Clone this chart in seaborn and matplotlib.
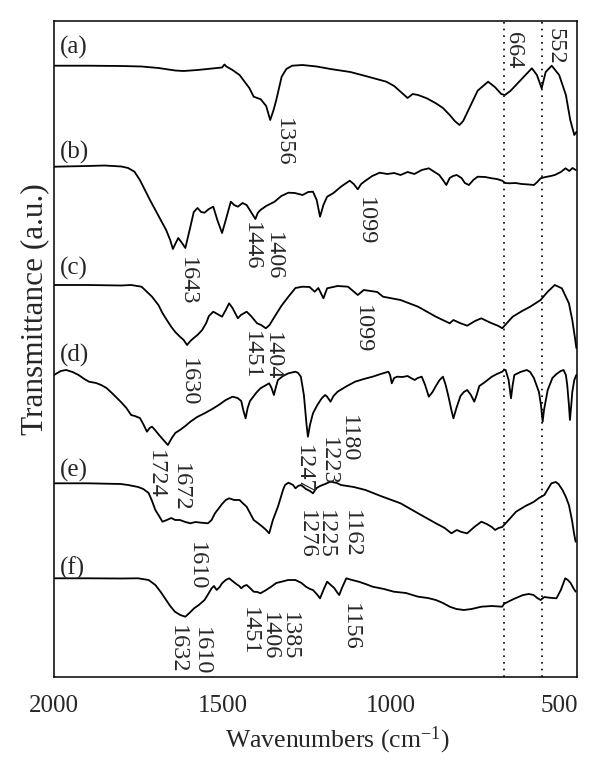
import numpy as np
import pandas as pd
import matplotlib
matplotlib.use('Agg')
import matplotlib.pyplot as plt
import seaborn as sns
from matplotlib.ticker import MultipleLocator

# ============================================================
# 1. Spectra (wavenumber, band depth below baseline)
# ============================================================
wn_a = [2000, 1900, 1800, 1740, 1690, 1640, 1615, 1574, 1530, 1501, 1494, 1488, 1470, 1449, 1420, 1407,
        1386, 1370, 1358, 1348, 1340, 1324, 1310, 1293, 1262, 1220, 1179, 1120, 1075, 1013, 990, 971,
        950, 935, 919, 893, 866, 845, 825, 810, 796, 785, 774, 742, 711, 690, 672, 661, 645, 628, 600,
        581, 566, 552, 540, 522, 500, 480, 467, 455, 449]
dep_a = [0, 0, 0.3, 0.8, 2.3, 4.8, 5.3, 4.3, 2.8, 1.8, -1.2, 0.8, 4.3, 9.3, 22.3, 31,
         33.6, 40.3, 54.3, 44.3, 34.3, 11, 3.3, 0, -0.7, 0.8, 3.3, 6.3, 10.3, 16, 20.3, 26,
         32.3, 28.3, 29.3, 32.6, 37.6, 42.3, 49.3, 55.3, 59.3, 55.3, 47.6, 25, 16, 21.6, 28.3, 29.3, 25.3, 19.3, 9.3,
         2.6, 9.3, 22.6, 6.3, 0, 9.3, 29.3, 54.3, 69.3, 66.3]

wn_b = [2000, 1900, 1850, 1800, 1780, 1761, 1745, 1730, 1715, 1699, 1683, 1667, 1655, 1647, 1640, 1631,
        1620, 1610, 1603, 1595, 1585, 1574, 1563, 1553, 1540, 1527, 1515, 1501, 1490, 1475, 1465, 1454,
        1440, 1428, 1415, 1402, 1395, 1387, 1370, 1345, 1325, 1304, 1285, 1262, 1245, 1231, 1220, 1210,
        1200, 1189, 1170, 1148, 1122, 1110, 1098, 1088, 1075, 1055, 1033, 1010, 990, 971, 950, 930, 908,
        887, 870, 856, 845, 835, 825, 815, 804, 790, 780, 768, 755, 742, 720, 700, 685, 669, 660, 648,
        630, 611, 590, 575, 565, 555, 540, 525, 513, 495, 481, 470, 460, 451]
dep_b = [0, -0.7, -1.2, -0.2, 1.3, 5, 13.3, 23.3, 33.3, 43.3, 53.3, 63.3, 73.3, 82.3, 77.3, 71.3,
         76.3, 81.3, 71.3, 60, 45.3, 41.3, 45.3, 46, 42.3, 40, 53.3, 66.3, 53.3, 35, 38.3, 40,
         36.3, 38.3, 45.3, 52.3, 46.3, 43.3, 39.3, 35, 29.3, 26, 26.3, 28.3, 25.3, 25, 33.3, 50,
         38.3, 30, 26.3, 20, 14, 17.3, 22.6, 17.3, 14, 9.3, 6, 7.3, 6.3, 8.3, 5.3, 7.3, 3.3,
         1.6, 5.3, 8.3, 13.3, 18.3, 11.3, 9.3, 8.3, 11.3, 16.3, 18.3, 13.3, 10, 10.3, 11.6, 12.3, 14, 16.3, 16.6,
         16.3, 17.3, 17.8, 18.3, 15.3, 11.6, 10.3, 9.3, 8.3, 5.3, 1.6, 4.3, 1.3, 3.3]

wn_c = [2000, 1900, 1800, 1771, 1740, 1709, 1690, 1678, 1665, 1652, 1640, 1626, 1615, 1605, 1595, 1585,
        1574, 1560, 1548, 1540, 1527, 1515, 1501, 1490, 1480, 1470, 1454, 1445, 1428, 1415, 1397, 1385,
        1371, 1360, 1345, 1325, 1304, 1283, 1262, 1241, 1226, 1215, 1200, 1189, 1158, 1127, 1098, 1080,
        1040, 1023, 971, 919, 866, 825, 814, 795, 773, 750, 731, 715, 700, 680, 669, 655, 638, 610, 586,
        555, 545, 534, 513, 492, 471, 461, 453, 449]
dep_c = [0, 0, 0.5, 0, 1.7, 11.7, 20, 28, 35, 41.7, 47, 51.7, 55, 60, 56, 53,
         50, 45, 38, 31, 26.7, 29, 31.7, 25, 18.3, 23, 33.3, 30, 26.7, 31, 38.3, 40,
         43.3, 40, 31.7, 21, 11.7, 3, 1.7, 2, 6.7, 3, 13.3, 3.3, 1, 1.7, 10, 5,
         7, 11.7, 15, 21.7, 31.7, 38.3, 35, 38, 40.7, 36, 33.3, 36, 38.3, 41, 43.3, 38, 31.7, 26, 21.7,
         15, 11, 6.7, 0, 3.3, 18.3, 35, 53, 63]

wn_d = [2000, 1980, 1964, 1945, 1927, 1910, 1896, 1875, 1860, 1844, 1825, 1802, 1785, 1771, 1760, 1745,
        1735, 1724, 1716, 1709, 1700, 1688, 1675, 1662, 1650, 1640, 1626, 1610, 1595, 1575, 1553, 1530,
        1511, 1490, 1470, 1455, 1444, 1438, 1431, 1425, 1418, 1400, 1387, 1370, 1361, 1354, 1347, 1341,
        1335, 1320, 1304, 1283, 1275, 1267, 1258, 1250, 1246, 1240, 1231, 1218, 1205, 1195, 1189, 1179,
        1170, 1158, 1130, 1106, 1080, 1054, 1030, 1007, 1002, 997, 990, 981, 965, 950, 940, 929, 920,
        908, 898, 887, 876, 866, 855, 845, 837, 829, 820, 814, 805, 793, 783, 773, 762, 752, 745, 737,
        720, 700, 685, 669, 664, 659, 650, 643, 638, 633, 615, 596, 586, 575, 560, 554, 549, 545, 534,
        520, 508, 495, 487, 480, 476, 471, 468, 464, 461, 455, 449]
dep_d = [0, -4, -5, -3, 0, 4, 6.7, 8, 10, 13, 19, 26.7, 33, 40, 41, 43,
         49, 56.7, 53, 51.7, 55, 60, 65, 70, 63, 58, 55, 51, 46.7, 42, 38.3, 34,
         30, 25, 21.7, 23, 26, 35, 43.3, 33, 26, 18, 13.3, 10, 8.3, 13, 20, 12,
         5, 1, -1.7, -3.3, -2, 1.7, 20, 50, 61.7, 50, 38.3, 30, 23.3, 20, 21.7, 26.7,
         21, 16.7, 11, 6.7, 4, 1.7, -1, -3.3, 0, 8.3, 3, 1.7, 2, 1, 3, 5, 3,
         1.7, 10, 21.7, 17, 11, 5, 1.7, 10, 21, 35, 43.3, 33, 21, 17, 15, 20, 26.7, 20, 11,
         7, 1.7, -1, -3.3, -5, -5, 5, 23.3, 10, 0, -3, -5, -3, 3, 17, 30, 46.7, 35, 15,
         3, -1, -4, -5, 0, 10, 30, 45, 30, 17, 5, 0]

wn_e = [2000, 1900, 1802, 1780, 1750, 1735, 1719, 1710, 1699, 1688, 1678, 1665, 1652, 1640, 1626, 1610,
        1595, 1580, 1563, 1543, 1532, 1522, 1510, 1501, 1490, 1480, 1465, 1449, 1440, 1428, 1407, 1395,
        1381, 1370, 1361, 1350, 1335, 1320, 1314, 1304, 1290, 1283, 1275, 1267, 1259, 1252, 1240, 1231,
        1220, 1210, 1195, 1179, 1160, 1148, 1110, 1075, 1030, 971, 919, 866, 840, 820, 804, 790, 773,
        752, 731, 715, 700, 690, 680, 669, 650, 628, 600, 576, 560, 544, 523, 510, 502, 490, 480, 471,
        462, 455, 451]
dep_e = [0, 0, 0.7, 1.7, 3.7, 5.7, 9.7, 16.7, 26.7, 32.7, 38.4, 36.7, 34.7, 36.7, 36.7, 38.7,
         40, 38.7, 39.4, 40, 36.7, 30, 24.7, 20.7, 16.7, 15, 16.7, 16.7, 19.7, 23.4, 36.7, 39.7,
         43.4, 46.7, 50, 36.7, 23.4, 6.7, 1.7, -0.6, 1.7, 5, 2.7, 1.7, 3.7, 5.7, 7.7, 10,
         4.7, 2.7, 0.7, -1.6, -0.3, 1.7, 3.7, 6.7, 12.7, 20, 30, 40, 44.7, 50, 46.7, 48.7, 50,
         43.7, 38.4, 40.7, 43.7, 46.7, 44.7, 43.7, 36.7, 28.4, 22.7, 18.7, 14.7, 11.7, 0, -1.3, 0.7, 6.7, 13.7, 21.7,
         36.7, 51.7, 58.4]

wn_f = [2000, 1900, 1800, 1750, 1719, 1699, 1683, 1667, 1655, 1641, 1625, 1610, 1598, 1584, 1570, 1553,
        1542, 1532, 1525, 1517, 1508, 1501, 1490, 1480, 1470, 1459, 1450, 1444, 1436, 1428, 1418, 1407,
        1396, 1387, 1370, 1355, 1340, 1324, 1305, 1283, 1265, 1252, 1240, 1231, 1220, 1210, 1200, 1189,
        1178, 1168, 1160, 1153, 1145, 1132, 1115, 1095, 1075, 1054, 1020, 991, 955, 919, 890, 866, 845,
        825, 805, 783, 760, 731, 700, 669, 664, 659, 635, 607, 590, 576, 565, 555, 544, 534, 520, 508,
        495, 482, 474, 466, 458, 451]
dep_f = [0, 0, 0.2, 0, 1.7, 6.7, 13.7, 21.7, 27.7, 33.4, 36.7, 38.4, 34.7, 30, 26.7, 21.7,
         15.7, 10, 7.7, 11.7, 8.7, 5, 1.7, 0, 2.7, 5.7, 7.7, 10, 7.7, 6.7, 9.7, 13.4,
         13.7, 15, 11.7, 8.4, 4.7, 3.4, 1.7, 1.7, 4.7, 8.4, 10.7, 11.7, 15.7, 20, 11.7, 3.4,
         6.7, 9.7, 13.7, 16.7, 9.7, 0, 1.7, 3.4, 5.7, 8.4, 10.7, 13.4, 14.7, 18.4, 19.7, 21.7, 24.7,
         28.4, 30.7, 31.7, 30.7, 28.4, 27.7, 28.4, 25.7, 24.7, 20.7, 16.7, 15.7, 16.7, 19.7, 21.7, 18.7, 19.2, 19.7, 20,
         11.7, 0, 1.7, 4.7, 9.7, 13.4]

samples = ['(a)', '(b)', '(c)', '(d)', '(e)', '(f)']
wavenumbers = [wn_a, wn_b, wn_c, wn_d, wn_e, wn_f]
depths = [dep_a, dep_b, dep_c, dep_d, dep_e, dep_f]

# peak assignments written on each trace
peaks_a = ['1356', '664', '552']
peaks_b = ['1643', '1446', '1406', '1099']
peaks_c = ['1630', '1451', '1404', '1099']
peaks_d = ['1724', '1672', '1247', '1223', '1180']
peaks_e = ['1610', '1276', '1225', '1162']
peaks_f = ['1632', '1610', '1451', '1406', '1385', '1156']
marker_lines = [664, 552]

# ============================================================
# 2. Layout (stack offsets, label placement)
# ============================================================
offsets = [611.3, 510.3, 392, 302, 193.7, 98.7]
panel_y = [630, 525, 409, 322, 207, 109]
# (x centre in cm-1, top of text in axis units)
peak_pos = [
    [(1319, 559), (637, 645), (513, 649)],
    [(1605, 420), (1413, 455), (1348, 445), (1075, 480)],
    [(1600, 319), (1414, 346), (1352, 345), (1083, 372)],
    [(1699, 227), (1626, 214), (1260, 232), (1184, 240), (1127, 262)],
    [(1576, 135), (1252, 167), (1194, 167), (1116, 167)],
    [(1634, 52), (1561, 50), (1420, 70), (1361, 65), (1302, 65), (1121, 74)],
]
peak_text = [peaks_a, peaks_b, peaks_c, peaks_d, peaks_e, peaks_f]

frames = []
for s, wn, dep, off in zip(samples, wavenumbers, depths, offsets):
    frames.append(pd.DataFrame({'wn': wn, 'trans': off - np.asarray(dep, float), 'sample': s}))
df = pd.concat(frames, ignore_index=True)

# ============================================================
# 3. Plot
# ============================================================
sns.set_style('white')
plt.rcParams['font.family'] = ['Liberation Serif', 'DejaVu Serif']
plt.rcParams['mathtext.fontset'] = 'custom'
plt.rcParams['mathtext.rm'] = 'Liberation Serif'
plt.rcParams['mathtext.it'] = 'Liberation Serif:italic'

fig = plt.figure(figsize=(6, 7.78), dpi=100)
ax = fig.add_axes([54 / 600, 1 - 677 / 778, 523 / 600, 656 / 778])

sns.lineplot(data=df, x='wn', y='trans', hue='sample', palette=['black'] * 6,
             estimator=None, sort=False, legend=False, linewidth=1.3, ax=ax)

for v in marker_lines:
    ax.axvline(v, color='black', linestyle=(0, (1, 3)), linewidth=1.2)

fs = 17.5
for s, y in zip(samples, panel_y):
    ax.text(0.012, y, s, transform=ax.get_yaxis_transform(), fontsize=18, va='center', ha='left')

for texts, pos in zip(peak_text, peak_pos):
    for t, (x, y) in zip(texts, pos):
        ax.text(x, y, t, rotation=270, ha='center', va='top', fontsize=fs)

ax.set_xlim(2000, 447)
ax.set_ylim(0, 656)
ax.set_yticks([])
ax.set_xticks([2000, 1500, 1000, 500])
ax.xaxis.set_minor_locator(MultipleLocator(250))
ax.tick_params(axis='x', which='major', direction='in', length=9, width=1.1, labelsize=18, pad=13)
ax.tick_params(axis='x', which='minor', direction='in', length=4.5, width=1.1)
for sp in ax.spines.values():
    sp.set_linewidth(1.1)
    sp.set_color('black')

ax.set_xlabel('Wavenumbers (cm$^{-1}$)', fontsize=18.5, va='center')
ax.xaxis.set_label_coords(0.541, -63 / 656)
ax.set_ylabel('Transmittance (a.u.)', fontsize=22.5, va='center')
ax.yaxis.set_label_coords(-19 / 523, (677 - 309) / 656)

fig.savefig('out.png', dpi=100)
